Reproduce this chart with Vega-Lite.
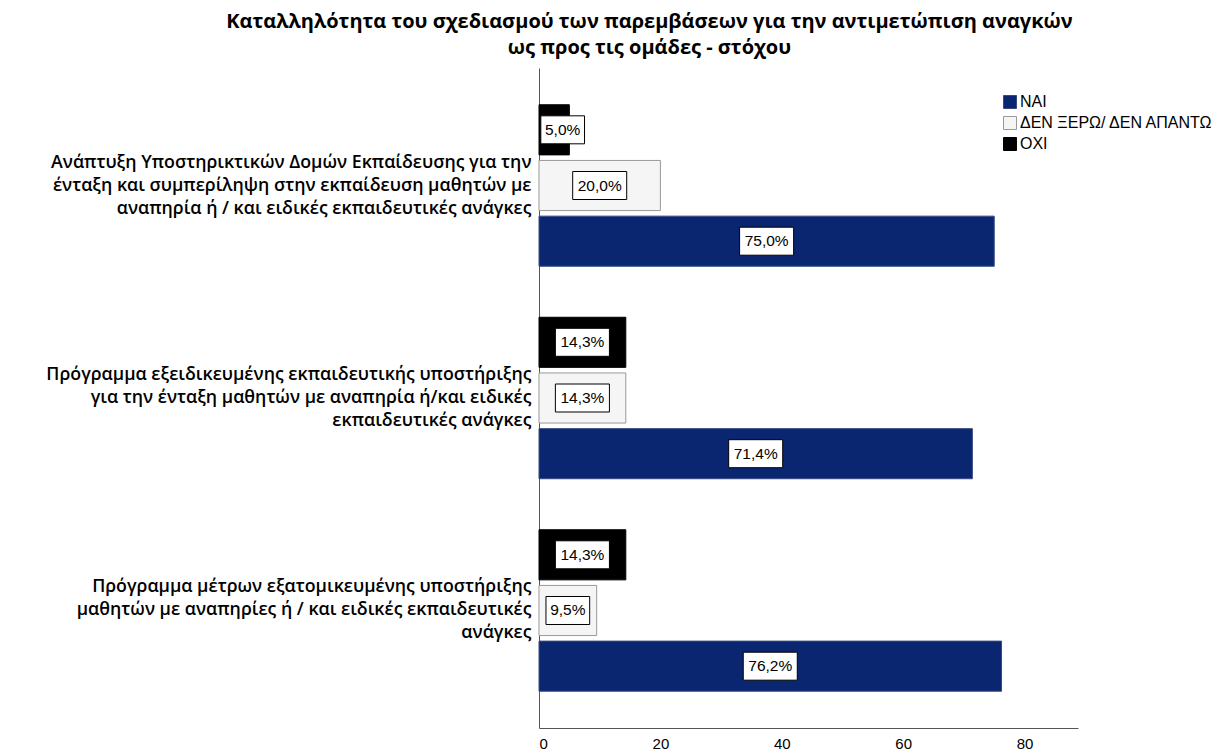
{
  "$schema": "https://vega.github.io/schema/vega-lite/v6.json",
  "autosize": "none",
  "width": 539,
  "height": 660,
  "padding": {"left": 539, "top": 68, "right": 141, "bottom": 26},
  "background": "white",
  "title": {
    "text": ["Καταλληλότητα του σχεδιασμού των παρεμβάσεων για την αντιμετώπιση αναγκών", "ως προς τις ομάδες - στόχου"],
    "font": "Open Sans",
    "fontSize": 20,
    "fontWeight": "bold",
    "color": "#000",
    "anchor": "middle",
    "frame": "group",
    "dx": -159,
    "offset": 10,
    "lineHeight": 26
  },
  "data": {
    "values": [
      {"category": "Ανάπτυξη Υποστηρικτικών Δομών Εκπαίδευσης για την\nένταξη και συμπερίληψη στην εκπαίδευση μαθητών με\nαναπηρία ή / και ειδικές εκπαιδευτικές ανάγκες", "response": "ΟΧΙ", "value": 5.0},
      {"category": "Ανάπτυξη Υποστηρικτικών Δομών Εκπαίδευσης για την\nένταξη και συμπερίληψη στην εκπαίδευση μαθητών με\nαναπηρία ή / και ειδικές εκπαιδευτικές ανάγκες", "response": "ΔΕΝ ΞΕΡΩ/ ΔΕΝ ΑΠΑΝΤΩ", "value": 20.0},
      {"category": "Ανάπτυξη Υποστηρικτικών Δομών Εκπαίδευσης για την\nένταξη και συμπερίληψη στην εκπαίδευση μαθητών με\nαναπηρία ή / και ειδικές εκπαιδευτικές ανάγκες", "response": "ΝΑΙ", "value": 75.0},
      {"category": "Πρόγραμμα εξειδικευμένης εκπαιδευτικής υποστήριξης\nγια την ένταξη μαθητών με αναπηρία ή/και ειδικές\nεκπαιδευτικές ανάγκες", "response": "ΟΧΙ", "value": 14.3},
      {"category": "Πρόγραμμα εξειδικευμένης εκπαιδευτικής υποστήριξης\nγια την ένταξη μαθητών με αναπηρία ή/και ειδικές\nεκπαιδευτικές ανάγκες", "response": "ΔΕΝ ΞΕΡΩ/ ΔΕΝ ΑΠΑΝΤΩ", "value": 14.3},
      {"category": "Πρόγραμμα εξειδικευμένης εκπαιδευτικής υποστήριξης\nγια την ένταξη μαθητών με αναπηρία ή/και ειδικές\nεκπαιδευτικές ανάγκες", "response": "ΝΑΙ", "value": 71.4},
      {"category": "Πρόγραμμα μέτρων εξατομικευμένης υποστήριξης\nμαθητών με αναπηρίες ή / και ειδικές εκπαιδευτικές\nανάγκες", "response": "ΟΧΙ", "value": 14.3},
      {"category": "Πρόγραμμα μέτρων εξατομικευμένης υποστήριξης\nμαθητών με αναπηρίες ή / και ειδικές εκπαιδευτικές\nανάγκες", "response": "ΔΕΝ ΞΕΡΩ/ ΔΕΝ ΑΠΑΝΤΩ", "value": 9.5},
      {"category": "Πρόγραμμα μέτρων εξατομικευμένης υποστήριξης\nμαθητών με αναπηρίες ή / και ειδικές εκπαιδευτικές\nανάγκες", "response": "ΝΑΙ", "value": 76.2}
    ]
  },
  "transform": [
    {"calculate": "replace(format(datum.value, '.1f'), '.', ',') + '%'", "as": "label"},
    {"calculate": "datum.value < 10 ? 3.6 : 4.45", "as": "halfbox"},
    {"calculate": "max(datum.value / 2, 3.9)", "as": "labelpos"},
    {"calculate": "datum.labelpos - datum.halfbox", "as": "boxstart"},
    {"calculate": "datum.labelpos + datum.halfbox", "as": "boxend"}
  ],
  "encoding": {
    "y": {
      "field": "category",
      "type": "nominal",
      "sort": null,
      "title": null,
      "scale": {"paddingInner": 0.24, "paddingOuter": 0.173},
      "axis": {
        "labelExpr": "split(datum.label, '\\n')",
        "labelFont": "Open Sans",
        "labelFontSize": 17.8,
        "labelFontWeight": 600,
        "labelColor": "#000",
        "labelLineHeight": 23,
        "labelOffset": -23,
        "labelLimit": 0,
        "labelPadding": 8,
        "ticks": false,
        "domainColor": "#555",
        "domainWidth": 1
      }
    },
    "yOffset": {
      "field": "response",
      "type": "nominal",
      "sort": ["ΟΧΙ", "ΔΕΝ ΞΕΡΩ/ ΔΕΝ ΑΠΑΝΤΩ", "ΝΑΙ"],
      "scale": {"domain": ["ΟΧΙ", "ΔΕΝ ΞΕΡΩ/ ΔΕΝ ΑΠΑΝΤΩ", "ΝΑΙ"], "paddingInner": 0.1, "paddingOuter": 0}
    }
  },
  "layer": [
    {
      "mark": {"type": "bar", "strokeWidth": 1},
      "encoding": {
        "x": {
          "field": "value",
          "type": "quantitative",
          "title": null,
          "scale": {"domain": [0, 88.8], "nice": false},
          "axis": {
            "values": [0, 20, 40, 60, 80],
            "grid": false,
            "ticks": false,
            "labelFont": "Liberation Sans",
            "labelFontSize": 15,
            "labelColor": "#000",
            "labelPadding": 8,
            "domainColor": "#555",
            "domainWidth": 1
          }
        },
        "color": {
          "field": "response",
          "type": "nominal",
          "title": null,
          "scale": {"domain": ["ΝΑΙ", "ΔΕΝ ΞΕΡΩ/ ΔΕΝ ΑΠΑΝΤΩ", "ΟΧΙ"], "range": ["#0b2670", "#f5f5f5", "#000000"]},
          "legend": {
            "orient": "none",
            "legendX": 463,
            "legendY": 26,
            "symbolType": "square",
            "symbolSize": 169,
            "symbolStrokeColor": "#888",
            "symbolStrokeWidth": 1,
            "labelFont": "Liberation Sans",
            "labelFontSize": 16,
            "labelColor": "#000",
            "rowPadding": 3,
            "labelOffset": 2,
            "labelLimit": 0
          }
        },
        "stroke": {
          "field": "response",
          "type": "nominal",
          "scale": {"domain": ["ΝΑΙ", "ΔΕΝ ΞΕΡΩ/ ΔΕΝ ΑΠΑΝΤΩ", "ΟΧΙ"], "range": ["#3a4a80", "#999999", "#000000"]},
          "legend": null
        }
      }
    },
    {
      "mark": {"type": "bar", "height": 28, "fill": "white", "stroke": "#000", "strokeWidth": 1},
      "encoding": {
        "x": {"field": "boxstart", "type": "quantitative"},
        "x2": {"field": "boxend"}
      }
    },
    {
      "mark": {"type": "text", "font": "Liberation Sans", "fontSize": 15.5, "color": "#000", "align": "center", "baseline": "middle"},
      "encoding": {
        "x": {"field": "labelpos", "type": "quantitative"},
        "text": {"field": "label"}
      }
    }
  ],
  "config": {
    "view": {"stroke": null},
    "axis": {"labelFont": "Liberation Sans"}
  }
}
